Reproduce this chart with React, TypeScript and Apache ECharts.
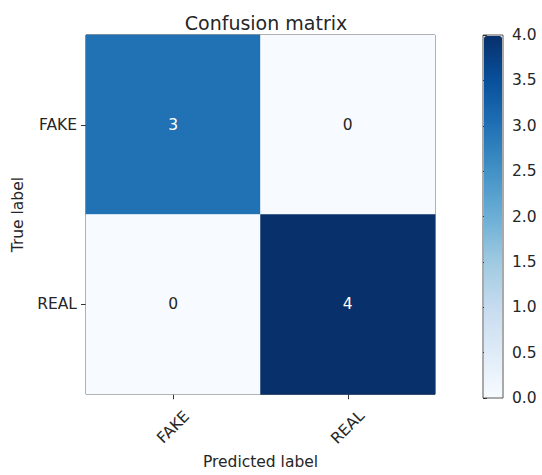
import React, { useEffect, useRef } from "react";
import * as echarts from "echarts";

const predictedLabels = ["FAKE", "REAL"];
const trueLabels = ["FAKE", "REAL"];
// rows = true label, columns = predicted label
const matrix = [
  [3, 0],
  [0, 4],
];
const colorbarMin = 0;
const colorbarMax = 4;
const colorbarInterval = 0.5;
const bluesColormap = [
  "#f7fbff", "#deebf7", "#c6dbef", "#9ecae1", "#6baed6",
  "#4292c6", "#2171b5", "#08519c", "#08306b",
];

const FONT = "DejaVu Sans";
const INK = "#262626";
const FS = 15.5;

export default function App() {
  const ref = useRef<HTMLDivElement>(null);
  useEffect(() => {
    if (!ref.current) return;
    const chart = echarts.init(ref.current, null, { renderer: "svg" });
    const maxVal = Math.max(...matrix.flat());
    const threshold = maxVal / 2;
    const data: any[] = [];
    matrix.forEach((row, r) => {
      row.forEach((v, c) => {
        data.push({
          value: [c, r, v],
          label: { color: v > threshold ? "#ffffff" : INK },
        });
      });
    });
    chart.setOption({
      animation: false,
      backgroundColor: "#ffffff",
      textStyle: { fontFamily: FONT },
      title: {
        text: "Confusion matrix",
        left: 261,
        textAlign: "center",
        top: 8,
        textStyle: { fontFamily: FONT, fontSize: 19, fontWeight: "normal", color: INK },
      },
      grid: [
        {
          left: 86, top: 35, width: 349, height: 363,
          show: true, borderColor: "#333", borderWidth: 1, backgroundColor: "transparent",
        },
        {
          left: 483, top: 35, width: 20, height: 363,
          show: true, borderColor: "#555", borderWidth: 1, backgroundColor: "transparent",
        },
      ],
      xAxis: [
        {
          type: "category",
          gridIndex: 0,
          data: predictedLabels,
          position: "bottom",
          name: "Predicted label",
          nameLocation: "middle",
          nameGap: 56,
          nameTextStyle: { fontFamily: FONT, fontSize: FS, color: INK },
          axisLine: { show: false },
          axisTick: { show: true, alignWithLabel: true, length: 5, lineStyle: { color: "#333" } },
          axisLabel: {
            rotate: 45, align: "center", verticalAlign: "middle", margin: 33,
            fontFamily: FONT, fontSize: FS, color: INK,
          },
          splitLine: { show: false },
        },
        {
          type: "value",
          gridIndex: 1,
          show: false,
          min: 0, max: 1,
        },
      ],
      yAxis: [
        {
          type: "category",
          gridIndex: 0,
          data: trueLabels,
          inverse: true,
          name: "True label",
          nameLocation: "middle",
          nameRotate: 90,
          nameGap: 60,
          nameTextStyle: { fontFamily: FONT, fontSize: FS, color: INK },
          axisLine: { show: false },
          axisTick: { show: true, alignWithLabel: true, length: 5, lineStyle: { color: "#333" } },
          axisLabel: { fontFamily: FONT, fontSize: FS, color: INK, margin: 9 },
          splitLine: { show: false },
        },
        {
          type: "value",
          gridIndex: 1,
          position: "right",
          min: colorbarMin,
          max: colorbarMax,
          interval: colorbarInterval,
          axisLine: { show: false },
          axisTick: { show: true, length: 4, lineStyle: { color: "#333" } },
          axisLabel: {
            fontFamily: FONT, fontSize: FS, color: INK, margin: 9,
            formatter: (v: number) => v.toFixed(1),
          },
          splitLine: { show: false },
        },
      ],
      visualMap: [
        {
          type: "continuous",
          min: colorbarMin,
          max: colorbarMax,
          seriesIndex: 0,
          calculable: false,
          show: true,
          orient: "vertical",
          left: 484,
          top: 36,
          itemWidth: 18,
          itemHeight: 361,
          padding: 0,
          showLabel: false,
          inRange: { color: bluesColormap },
        },
      ],
      series: [
        {
          type: "heatmap",
          xAxisIndex: 0,
          yAxisIndex: 0,
          data,
          label: {
            show: true,
            fontFamily: FONT,
            fontSize: FS,
            formatter: (p: any) => String(p.value[2]),
          },
          itemStyle: { borderWidth: 0 },
          emphasis: { disabled: true },
        },
      ],
    });
    return () => chart.dispose();
  }, []);
  return (
    <div
      ref={ref}
      style={{ position: "fixed", left: 0, top: 0, width: 542, height: 475 }}
    />
  );
}
